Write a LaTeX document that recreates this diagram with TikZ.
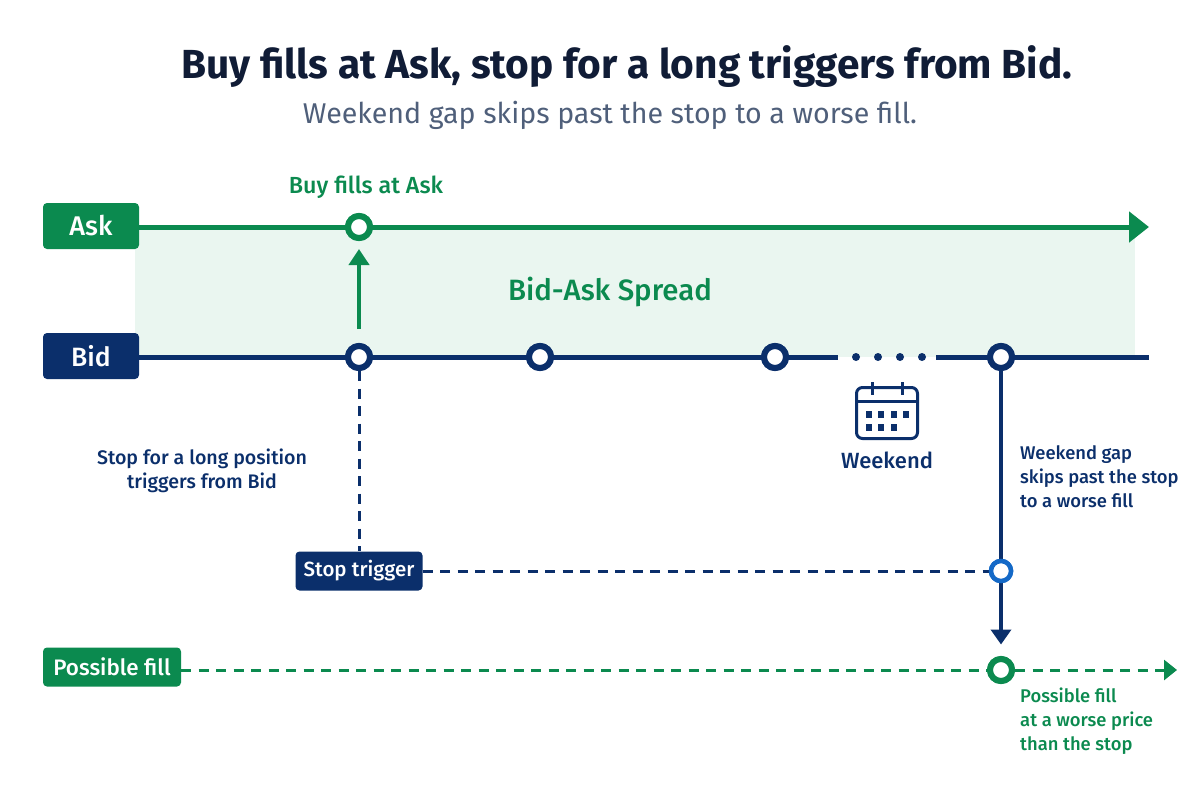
\documentclass[tikz,border=0pt]{standalone}
\usepackage{fontspec}
\setmainfont{Fira Sans}
\newfontfamily\medf{Fira Sans Medium}
\usetikzlibrary{arrows.meta}
\definecolor{navy}{HTML}{0B2F6B}
\definecolor{grn}{HTML}{0B8A4F}
\definecolor{band}{HTML}{EAF6F0}
\definecolor{blu}{HTML}{1469C7}
\definecolor{gry}{HTML}{4F5F7A}
\definecolor{ink}{HTML}{101C36}
\tikzset{
 x=1pt,y=-1pt,
 pill/.style={rounded corners=4pt,text=white,inner sep=0pt,minimum height=46pt},
 dot/.style={circle,draw=#1,fill=white,line width=6pt,minimum size=22pt,inner sep=0pt},
 lab/.style={font=\fontsize{18.4}{24}\selectfont\medf,text=#1,align=left,inner sep=0pt},
 ln/.style={line width=5pt,draw=#1},
 dsh/.style={line width=3pt,draw=#1,dash pattern=on 10pt off 7.5pt},
}
\begin{document}
\begin{tikzpicture}
\useasboundingbox (0,0) rectangle (1200,800);
\fill[band] (135,227) rectangle (1135,357);
\node[font=\fontsize{40.6}{46}\selectfont\bfseries,text=ink,inner sep=0pt] (title) at (627,67) {Buy fills at Ask, stop for a long triggers from Bid.};
\node[font=\fontsize{28.6}{34}\selectfont,text=gry,inner sep=0pt] (sub) at (610,115) {Weekend gap skips past the stop to a worse fill.};

\node[pill,fill=grn,minimum width=96pt] (ask) at (91,226) {\raisebox{-3pt}{\fontsize{27}{30}\selectfont\medf Ask}};
\node[pill,fill=navy,minimum width=96pt] (bid) at (91,356) {\raisebox{-2pt}{\fontsize{26.5}{30}\selectfont\medf Bid}};
\node[pill,fill=navy,minimum width=127pt,minimum height=39pt] (stop) at (359,571) {\raisebox{-2pt}{\fontsize{20.5}{24}\selectfont\medf Stop trigger}};
\node[pill,fill=grn,minimum width=138pt,minimum height=39pt] (fill) at (112,667) {\raisebox{-2pt}{\fontsize{22.4}{26}\selectfont\medf Possible fill}};

\coordinate (askend) at (1149,227);
\coordinate (bidend) at (1149,357);
\coordinate (fillend) at (1177,670);
\coordinate (gapa) at (838,357);
\coordinate (gapb) at (936,357);
\coordinate (upfrom) at (359,329);
\coordinate (upto) at (359,249);
\coordinate (downto) at (1001,644.5);

\node[dot=grn] (na) at (359,227) {};
\node[dot=navy] (b1) at (359,357) {};
\node[dot=navy] (b2) at (540,357) {};
\node[dot=navy] (b3) at (775,357) {};
\node[dot=navy] (b4) at (1001,357) {};
\node[dot=blu,minimum size=20pt,line width=4.5pt] (st) at (1001,571) {};
\node[dot=grn] (pf) at (1001,670) {};

\draw[ln=grn,-{Triangle[length=20pt,width=30pt]}] (ask.east|-na) -- (askend);
\draw[ln=navy] (bid.east|-b1) -- (gapa);
\draw[ln=navy] (gapb) -- (bidend);
\foreach \x in {856,878,900,922}{\fill[navy] (\x,357) circle (4pt);}
\draw[line width=4pt,draw=grn,-{Triangle[length=16pt,width=20pt]}] (upfrom) -- (upto);
\draw[dsh=navy] (b1) -- (stop);
\draw[dsh=navy] (stop) -- (st);
\draw[line width=4pt,draw=navy,-{Triangle[length=15pt,width=20pt]}] (b4) -- (downto);
\draw[dsh=grn] (fill.east|-pf) -- (pf);
\draw[dsh=grn,-{Triangle[length=13pt,width=20pt]}] (pf) -- (fillend);
\node[dot=grn] at (na) {};
\node[dot=navy] at (b1) {};
\node[dot=navy] at (b2) {};
\node[dot=navy] at (b3) {};
\node[dot=navy] at (b4) {};
\node[dot=blu,minimum size=20pt,line width=4.5pt] at (st) {};
\node[dot=grn] at (pf) {};

\node[font=\fontsize{23.3}{26}\selectfont\medf,text=grn,inner sep=0pt] (bf) at (366,187) {Buy fills at Ask};
\node[font=\fontsize{29.4}{34}\selectfont\medf,text=grn,inner sep=0pt] (spr) at (610,292) {Bid-Ask Spread};
\node[lab=navy,align=center,font=\fontsize{19.6}{24}\selectfont\medf] (long) at (202,471) {Stop for a long position\\triggers from Bid};
\node[font=\fontsize{22}{26}\selectfont\medf,text=navy,inner sep=0pt] (wk) at (887,460) {Weekend};
\node[lab=navy,anchor=west] (gap) at (1020,477) {Weekend gap\\skips past the stop\\to a worse fill};
\node[lab=grn,anchor=north west] (pos) at (1020,688) {Possible fill\\at a worse price\\than the stop};

% calendar icon
\draw[navy,line width=3pt,rounded corners=6pt] (856.5,387.5) rectangle (917.5,438.5);
\draw[navy,line width=3pt] (856.5,401) -- (917.5,401);
\draw[navy,line width=3pt] (872,382) -- (872,395);
\draw[navy,line width=3pt] (902,382) -- (902,395);
\foreach \x in {866,878,891,903}{\fill[navy] (\x,411) rectangle ++(6,6.5);}
\foreach \x in {866,878,891}{\fill[navy] (\x,424) rectangle ++(6,6.5);}
\end{tikzpicture}
\end{document}
